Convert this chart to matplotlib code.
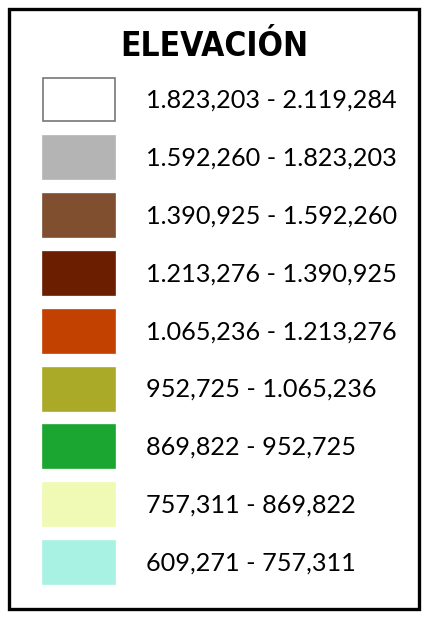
import matplotlib
matplotlib.use('Agg')
from matplotlib import pyplot as plt
from matplotlib.patches import Rectangle

# datos de la leyenda
titulo = 'ELEVACIÓN'
rangos = ['1.823,203 - 2.119,284', '1.592,260 - 1.823,203', '1.390,925 - 1.592,260',
          '1.213,276 - 1.390,925', '1.065,236 - 1.213,276', '952,725 - 1.065,236',
          '869,822 - 952,725', '757,311 - 869,822', '609,271 - 757,311']
colores = ['#FFFFFF', '#B4B4B4', '#7F4F2F', '#6B1E00', '#C24000',
           '#AAAA28', '#1BA632', '#F0FAB4', '#A8F2E4']

W, H = 426, 617
fig = plt.figure(figsize=(W / 100, H / 100), dpi=100)
ax = fig.add_axes([0, 0, 1, 1])
ax.set_xlim(0, W)
ax.set_ylim(H, 0)
ax.axis('off')

# marco
ax.add_patch(Rectangle((9, 9), 410, 600, fill=False, edgecolor='black', linewidth=2.4))

ax.text(214, 47, titulo, ha='center', va='center', fontsize=24, fontweight='bold',
        fontstretch='condensed', family=['DejaVu Sans', 'Liberation Sans'])

for i, (rng, col) in enumerate(zip(rangos, colores)):
    yc = 99 + i * 57.9
    borde = '#777777' if i == 0 else col
    ax.add_patch(Rectangle((43, yc - 21), 72, 43, facecolor=col, edgecolor=borde, linewidth=1.2))
    ax.text(146, yc + 1, rng, ha='left', va='center', fontsize=18.2, family=['Lato', 'DejaVu Sans'])

fig.savefig('out.png', dpi=100)
